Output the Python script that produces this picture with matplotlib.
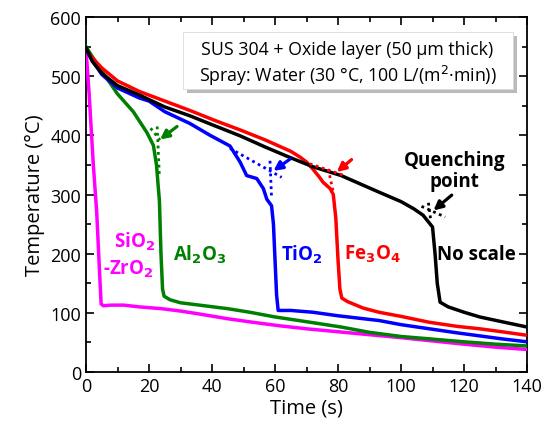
import numpy as np
import matplotlib
matplotlib.use('Agg')
import matplotlib.pyplot as plt
import matplotlib.patches as mpatches
import matplotlib.patheffects as pe
from matplotlib.ticker import MultipleLocator

plt.rcParams["font.family"] = ["Open Sans", "DejaVu Sans"]

# Cooling curves, time (s) and temperature (degC)
t_none = [0, 2, 5, 10, 17, 25, 33, 40, 49, 57, 65, 72, 81, 90, 93, 100, 104, 107, 108.5,
          110, 110.8, 111.5, 112.4, 115, 120, 125, 132, 140]
T_none = [548, 525, 505, 484, 468, 448, 433, 418, 399, 380, 362, 347, 332, 311, 304, 288, 276,
          265, 255, 245, 200, 150, 118, 110, 101, 93, 85, 76]

t_fe = [0, 2, 5, 10, 17, 25, 33, 41, 49, 57, 65, 68, 70, 72, 74, 75.2, 77.5, 78.5, 79.3, 80,
        80.6, 81.2, 83, 88, 93, 100, 109, 118, 125, 132, 140]
T_fe = [545, 531, 514, 492, 474, 458, 442, 425, 409, 392, 373, 363, 355, 343, 330, 321, 310,
        300, 260, 190, 140, 125, 119, 108, 101, 94, 84, 77, 73, 68, 62]

t_ti = [0, 2, 5, 10, 17, 20, 25, 33, 39.4, 45.7, 48.9, 51, 54.2, 56.3, 57.4, 58.9, 59.5, 60,
        60.5, 61, 65, 72, 80, 93, 100, 109, 118, 125, 132, 140]
T_ti = [545, 527, 503, 480, 463, 458, 440, 420, 400, 382, 355, 332, 327, 310, 292, 281, 250,
        190, 130, 104, 104, 101, 95, 87, 80, 73, 66, 61, 56, 51]

t_al = [0, 2, 5, 10, 15, 19.3, 21.4, 22.4, 22.9, 23.3, 23.8, 24.3, 24.8, 26.7, 30, 36, 45,
        52, 60, 70, 81, 90, 100, 109, 120, 130, 140]
T_al = [550, 533, 509, 470, 440, 405, 383, 349, 315, 290, 200, 140, 128, 122, 117, 113, 107,
        101, 93, 85, 76, 67, 60, 56, 51, 47, 44]

t_si = [0, 1, 2.3, 3.4, 4.2, 4.8, 5.5, 8, 12, 17, 24, 30, 36, 45, 53, 61.6, 70, 80, 90, 100,
        109, 120, 130, 140]
T_si = [545, 470, 352, 270, 180, 115, 112, 113, 113, 110, 107, 103, 98, 90, 84, 78, 73, 68,
        63, 58, 53, 47, 42, 38]

# Tangent lines (dotted) used to find the quenching point: [t0, t1], [T0, T1]
tan_al = [([20.5, 23.5], [412, 392]), ([22.6, 23.3], [415, 330])]
tan_ti = [([45.7, 62.1], [378, 329]), ([58.4, 58.9], [357, 295])]
tan_fe = [([71, 82], [352, 332]), ([76.9, 78.5], [343, 304])]
tan_none = [([106.5, 114], [280, 262]), ([108.7, 109.4], [286, 258])]

# Arrows: (tail), (head)
arr_al = ((28.9, 415), (23.5, 393))
arr_ti = ((64.8, 360), (59.5, 340))
arr_fe = ((84.3, 359), (79.6, 338))
arr_none = ((116.1, 299), (110.3, 273))

fig = plt.figure(figsize=(5.57, 4.31), dpi=100)
ax = fig.add_axes([0.1544, 0.1346, 0.7918, 0.8236])

curves = [(t_si, T_si, 'magenta'), (t_al, T_al, 'green'), (t_ti, T_ti, 'blue'),
          (t_fe, T_fe, 'red'), (t_none, T_none, 'black')]
for tt, TT, c in curves:
    ax.plot(tt, TT, color=c, lw=2.5, solid_joinstyle='round', zorder=3)

for tans, arr, c in [(tan_al, arr_al, 'green'), (tan_ti, arr_ti, 'blue'),
                     (tan_fe, arr_fe, 'red'), (tan_none, arr_none, 'black')]:
    for xs, ys in tans:
        ax.plot(xs, ys, color=c, lw=2.0, linestyle=(0, (1, 1.3)), zorder=4)
    ax.annotate('', xy=arr[1], xytext=arr[0],
                arrowprops=dict(arrowstyle='-|>', color=c, lw=2.3, mutation_scale=13,
                                shrinkA=0, shrinkB=0), zorder=5)

# Curve labels
lab_kw = dict(fontsize=13.5, fontweight='bold', ha='center', va='center')
ax.text(15.5, 222, 'SiO$_\\mathbf{2}$', color='magenta', **lab_kw)
ax.text(13.5, 175, '-ZrO$_\\mathbf{2}$', color='magenta', **lab_kw)
ax.text(36, 200, 'Al$_\\mathbf{2}$O$_\\mathbf{3}$', color='green', **lab_kw)
ax.text(68.6, 200, 'TiO$_\\mathbf{2}$', color='blue', **lab_kw)
ax.text(91, 200, 'Fe$_\\mathbf{3}$O$_\\mathbf{4}$', color='red', **lab_kw)
ax.text(124, 200, 'No scale', color='black', **lab_kw)
ax.text(117, 340, 'Quenching\npoint', color='black', linespacing=1.05, **lab_kw)

# Condition box with drop shadow
box = mpatches.FancyBboxPatch((0.22, 0.797), 0.748, 0.161, transform=ax.transAxes,
                              boxstyle='square,pad=0', facecolor='white', edgecolor='0.85',
                              lw=0.6, zorder=6)
box.set_path_effects([pe.withSimplePatchShadow(offset=(3, -3), shadow_rgbFace='0.55', alpha=0.6)])
ax.add_patch(box)
ax.text(0.593, 0.911, 'SUS 304 + Oxide layer (50 µm thick)', transform=ax.transAxes,
        fontsize=12.8, ha='center', va='center', zorder=7)
ax.text(0.593, 0.838, 'Spray: Water (30 °C, 100 L/(m$^2$·min))', transform=ax.transAxes,
        fontsize=12.8, ha='center', va='center', zorder=7)

# Axes
ax.set_xlim(0, 140)
ax.set_ylim(0, 600)
ax.xaxis.set_major_locator(MultipleLocator(20))
ax.xaxis.set_minor_locator(MultipleLocator(10))
ax.yaxis.set_major_locator(MultipleLocator(100))
ax.yaxis.set_minor_locator(MultipleLocator(50))
ax.tick_params(which='both', direction='in', top=True, right=True, width=1.2, labelsize=13)
ax.tick_params(which='major', length=6)
ax.tick_params(which='minor', length=3.5)
for axis in ['top', 'bottom', 'left', 'right']:
    ax.spines[axis].set_linewidth(1.3)
ax.set_xlabel('Time (s)', fontsize=14.5, labelpad=2)
ax.set_ylabel('Temperature (°C)', fontsize=14.5, labelpad=4)

plt.savefig('out.png', dpi=100)
plt.close()
